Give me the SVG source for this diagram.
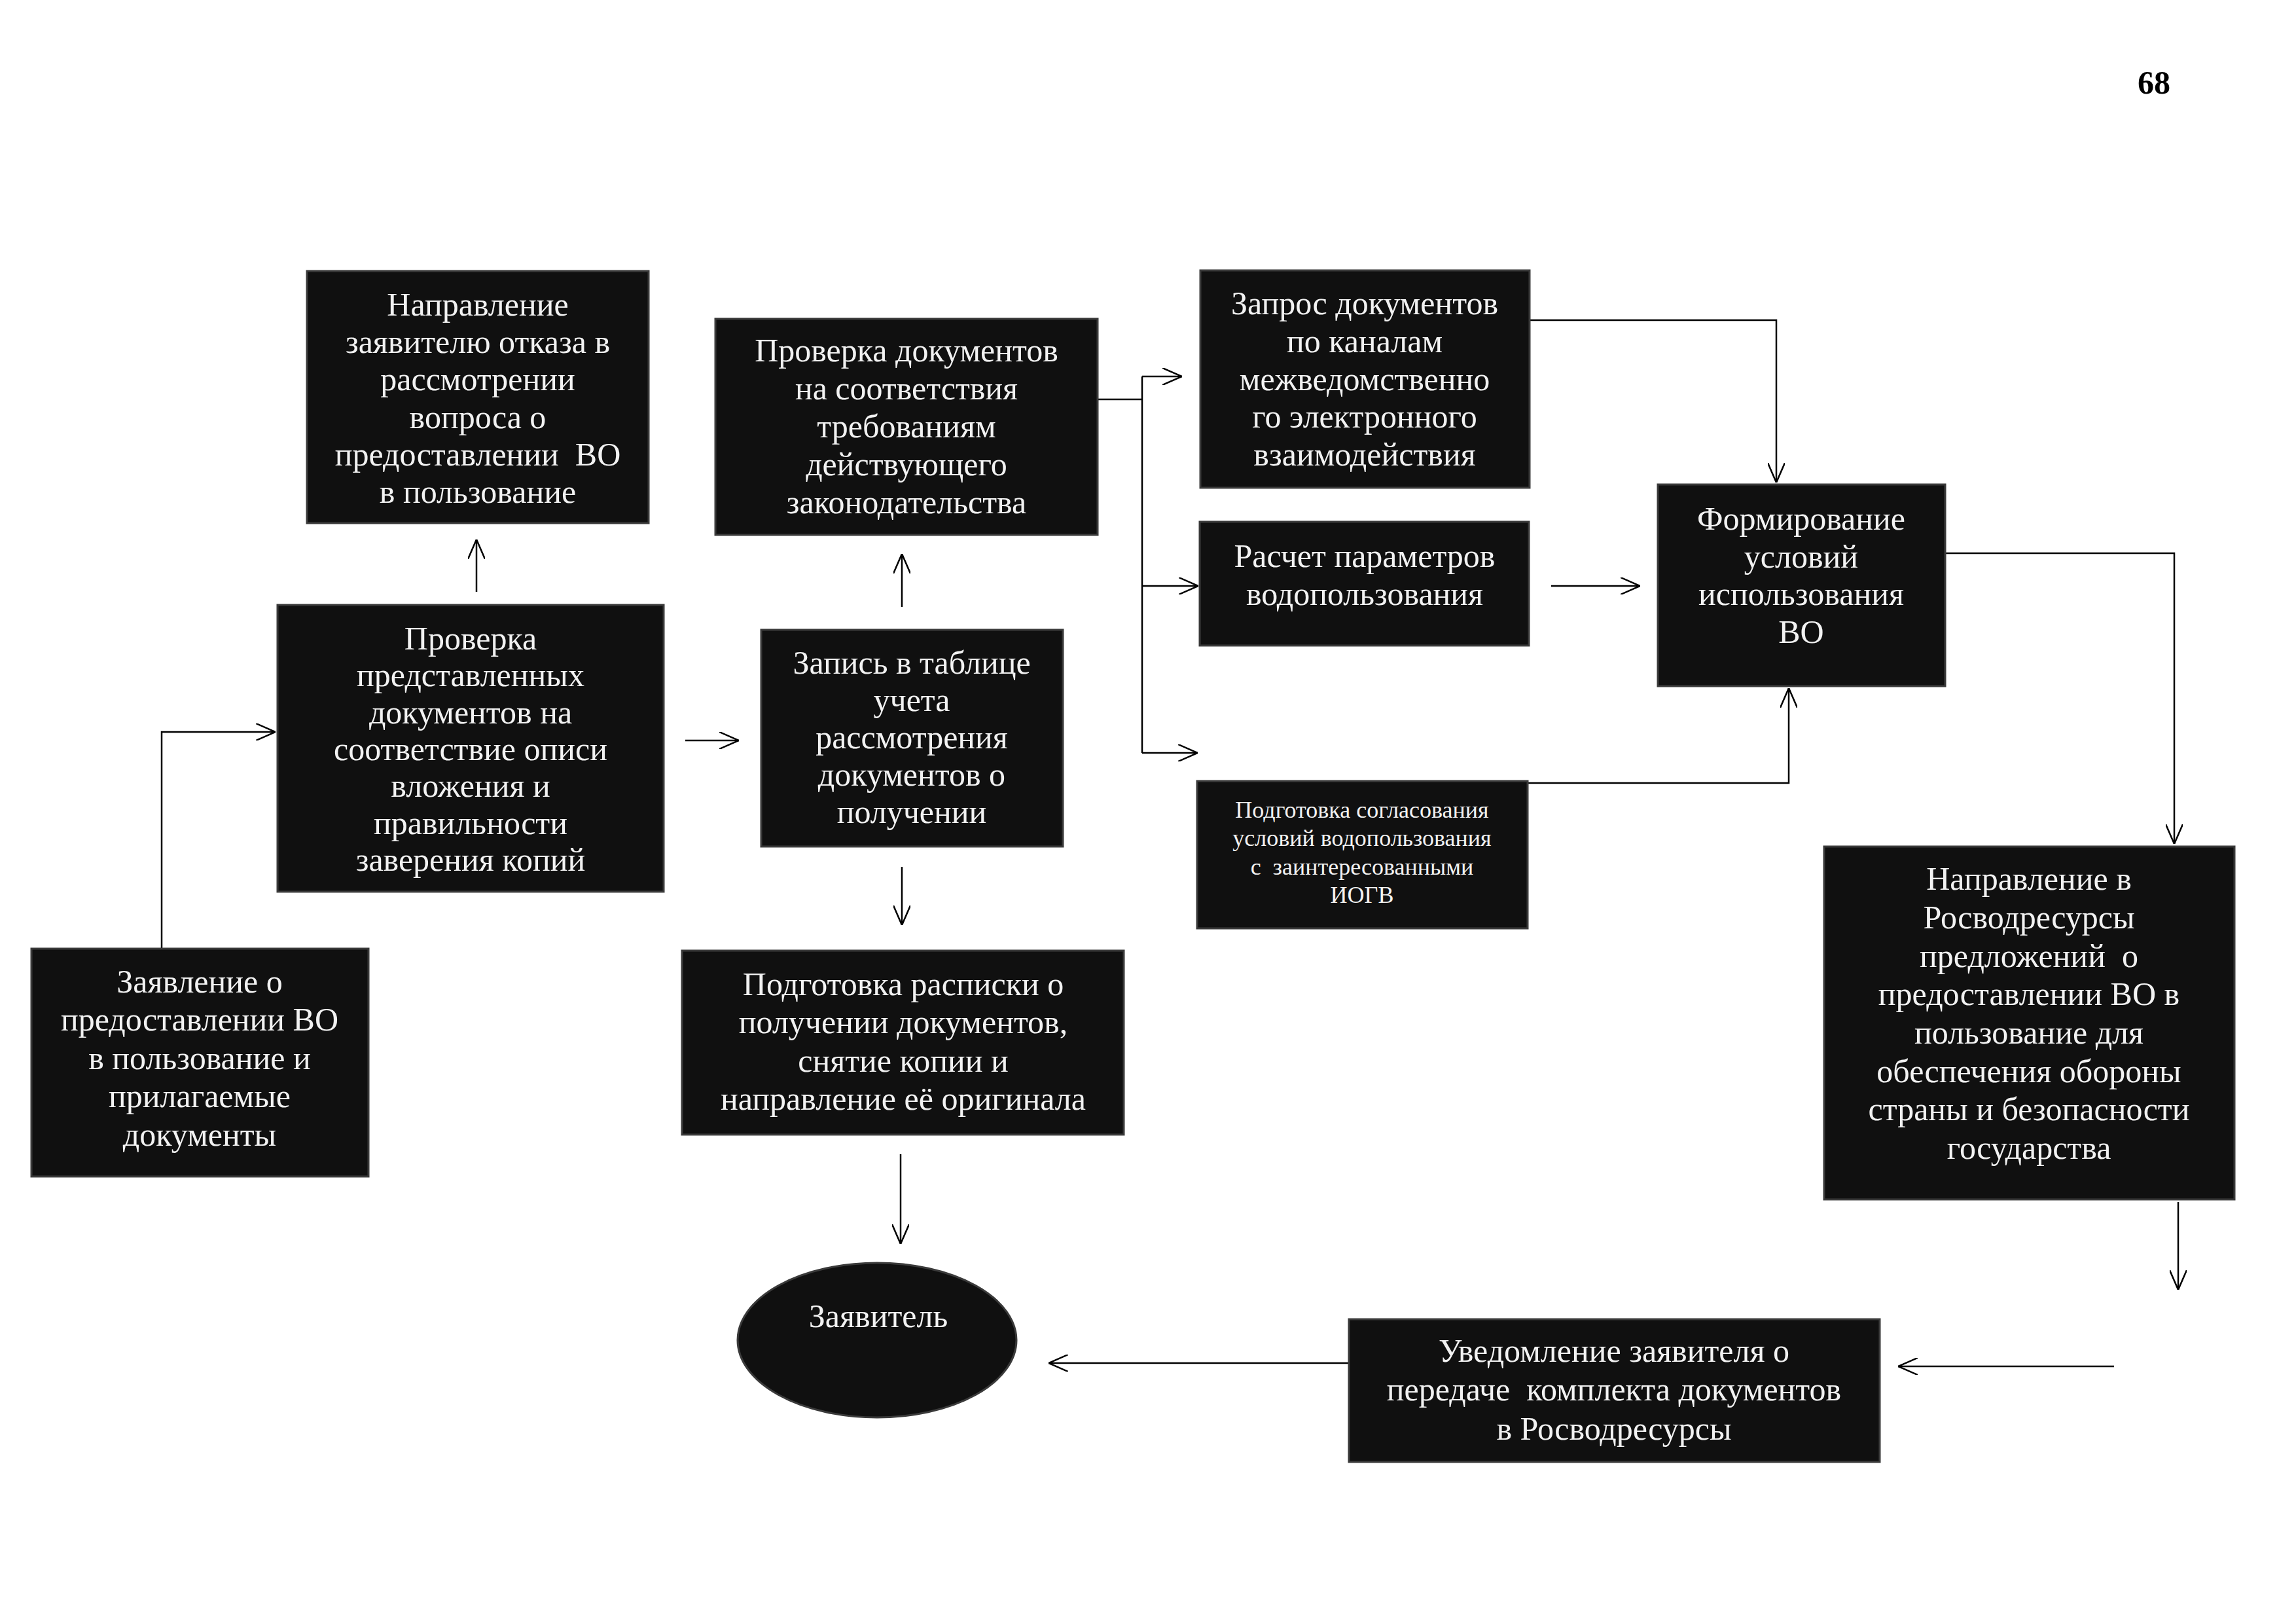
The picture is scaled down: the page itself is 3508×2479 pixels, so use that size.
<svg xmlns="http://www.w3.org/2000/svg" width="3508" height="2479" viewBox="0 0 3508 2479">
<defs>
<style>
.box{fill:#101010;stroke:#3a3a3a;stroke-width:3}
.t{font-family:"Liberation Serif","Times New Roman",serif;font-size:50px;fill:#f2f2f2;text-anchor:middle}
.ts{font-size:36px}
.c{fill:none;stroke:#000;stroke-width:2.5}
</style>
<marker id="ah" viewBox="0 0 30 26" refX="30" refY="13" markerWidth="30" markerHeight="26" markerUnits="userSpaceOnUse" orient="auto">
<path d="M0,0 L30,13 L0,26" fill="none" stroke="#000" stroke-width="2.5"/>
</marker>
</defs>
<rect width="3508" height="2479" fill="#fff"/>
<text x="3291" y="143" font-family="Liberation Serif,serif" font-size="50" font-weight="bold" text-anchor="middle">68</text>

<g id="connectors">
<path class="c" d="M247,1449 V1118 H421" marker-end="url(#ah)"/>
<path class="c" d="M728,904 V824" marker-end="url(#ah)"/>
<path class="c" d="M1047,1131 H1129" marker-end="url(#ah)"/>
<path class="c" d="M1378,927 V846" marker-end="url(#ah)"/>
<path class="c" d="M1378,1324 V1413" marker-end="url(#ah)"/>
<path class="c" d="M1376,1763 V1900" marker-end="url(#ah)"/>
<path class="c" d="M1677,610 H1745 M1745,575 V1150"/>
<path class="c" d="M1745,575 H1806" marker-end="url(#ah)"/>
<path class="c" d="M1745,895 H1831" marker-end="url(#ah)"/>
<path class="c" d="M1745,1150 H1830" marker-end="url(#ah)"/>
<path class="c" d="M2337,489 H2714 V737" marker-end="url(#ah)"/>
<path class="c" d="M2370,895 H2506" marker-end="url(#ah)"/>
<path class="c" d="M2334,1196 H2733 V1051" marker-end="url(#ah)"/>
<path class="c" d="M2972,845 H3322 V1289" marker-end="url(#ah)"/>
<path class="c" d="M3328,1836 V1970" marker-end="url(#ah)"/>
<path class="c" d="M3230,2087 H2900" marker-end="url(#ah)"/>
<path class="c" d="M2061,2082 H1602" marker-end="url(#ah)"/>
</g>

<g id="nodeA">
<rect class="box" x="469" y="414" width="522" height="385"/>
<text class="t"><tspan x="730" y="482">Направление</tspan><tspan x="730" y="539">заявителю отказа в</tspan><tspan x="730" y="596">рассмотрении</tspan><tspan x="730" y="654">вопроса о</tspan><tspan x="730" y="711" xml:space="preserve">предоставлении  ВО</tspan><tspan x="730" y="768">в пользование</tspan></text>
</g>

<g id="nodeB">
<rect class="box" x="424" y="924" width="590" height="438"/>
<text class="t"><tspan x="719" y="992">Проверка</tspan><tspan x="719" y="1048">представленных</tspan><tspan x="719" y="1105">документов на</tspan><tspan x="719" y="1161">соответствие описи</tspan><tspan x="719" y="1217">вложения и</tspan><tspan x="719" y="1274">правильности</tspan><tspan x="719" y="1330">заверения копий</tspan></text>
</g>

<g id="nodeC">
<rect class="box" x="48" y="1449" width="515" height="348"/>
<text class="t"><tspan x="305" y="1516">Заявление о</tspan><tspan x="305" y="1574">предоставлении ВО</tspan><tspan x="305" y="1633">в пользование и</tspan><tspan x="305" y="1691">прилагаемые</tspan><tspan x="305" y="1750">документы</tspan></text>
</g>

<g id="nodeD">
<rect class="box" x="1093" y="487" width="584" height="330"/>
<text class="t"><tspan x="1385" y="552">Проверка документов</tspan><tspan x="1385" y="610">на соответствия</tspan><tspan x="1385" y="668">требованиям</tspan><tspan x="1385" y="726">действующего</tspan><tspan x="1385" y="784">законодательства</tspan></text>
</g>

<g id="nodeE">
<rect class="box" x="1163" y="962" width="461" height="331"/>
<text class="t"><tspan x="1393" y="1029">Запись в таблице</tspan><tspan x="1393" y="1086">учета</tspan><tspan x="1393" y="1143">рассмотрения</tspan><tspan x="1393" y="1200">документов о</tspan><tspan x="1393" y="1257">получении</tspan></text>
</g>

<g id="nodeF">
<rect class="box" x="1042" y="1452" width="675" height="281"/>
<text class="t"><tspan x="1380" y="1520">Подготовка расписки о</tspan><tspan x="1380" y="1578">получении документов,</tspan><tspan x="1380" y="1637">снятие копии и</tspan><tspan x="1380" y="1695">направление её оригинала</tspan></text>
</g>

<g id="nodeH">
<rect class="box" x="1834" y="413" width="503" height="332"/>
<text class="t"><tspan x="2085" y="480">Запрос документов</tspan><tspan x="2085" y="538">по каналам</tspan><tspan x="2085" y="596">межведомственно</tspan><tspan x="2085" y="653">го электронного</tspan><tspan x="2085" y="711">взаимодействия</tspan></text>
</g>

<g id="nodeI">
<rect class="box" x="1833" y="797" width="503" height="189"/>
<text class="t"><tspan x="2085" y="866">Расчет параметров</tspan><tspan x="2085" y="924">водопользования</tspan></text>
</g>

<g id="nodeJ">
<rect class="box" x="1829" y="1193" width="505" height="225"/>
<text class="t ts"><tspan x="2081" y="1249">Подготовка согласования</tspan><tspan x="2081" y="1292">условий водопользования</tspan><tspan x="2081" y="1336" xml:space="preserve">с  заинтересованными</tspan><tspan x="2081" y="1379">ИОГВ</tspan></text>
</g>

<g id="nodeK">
<rect class="box" x="2533" y="740" width="439" height="308"/>
<text class="t"><tspan x="2752" y="809">Формирование</tspan><tspan x="2752" y="867">условий</tspan><tspan x="2752" y="924">использования</tspan><tspan x="2752" y="982">ВО</tspan></text>
</g>

<g id="nodeL">
<rect class="box" x="2787" y="1293" width="627" height="539"/>
<text class="t"><tspan x="3100" y="1359">Направление в</tspan><tspan x="3100" y="1418">Росводресурсы</tspan><tspan x="3100" y="1477" xml:space="preserve">предложений  о</tspan><tspan x="3100" y="1535">предоставлении ВО в</tspan><tspan x="3100" y="1594">пользование для</tspan><tspan x="3100" y="1653">обеспечения обороны</tspan><tspan x="3100" y="1711">страны и безопасности</tspan><tspan x="3100" y="1770">государства</tspan></text>
</g>

<g id="nodeG">
<rect class="box" x="2061" y="2015" width="811" height="218"/>
<text class="t"><tspan x="2466" y="2080">Уведомление заявителя о</tspan><tspan x="2466" y="2139" xml:space="preserve">передаче  комплекта документов</tspan><tspan x="2466" y="2199">в Росводресурсы</tspan></text>
</g>

<g id="nodeZ">
<ellipse cx="1340" cy="2047" rx="213" ry="118" fill="#101010" stroke="#3a3a3a" stroke-width="3"/>
<text class="t" x="1342" y="2027">Заявитель</text>
</g>
</svg>
